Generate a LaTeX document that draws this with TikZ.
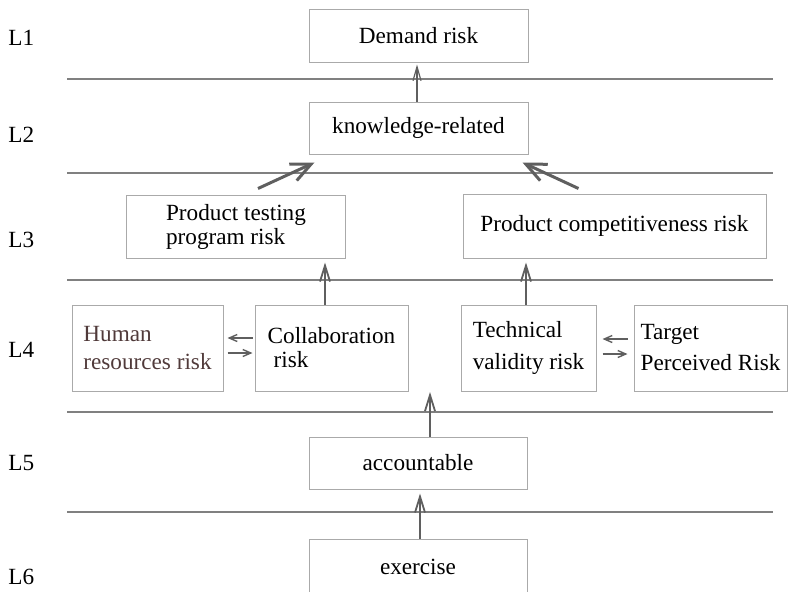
\documentclass[tikz,border=0pt]{standalone}
\usepackage{fontspec}
\setmainfont{Liberation Serif}
\usetikzlibrary{arrows.meta,positioning}
\definecolor{linegray}{RGB}{128,128,128}
\definecolor{boxgray}{RGB}{170,170,170}
\definecolor{arrowgray}{RGB}{95,95,95}
\definecolor{hrbrown}{RGB}{80,58,58}

\begin{document}
\begin{tikzpicture}[
    x=0.5pt, y=-0.5pt,
    font=\fontsize{11.6}{12}\selectfont,
    box/.style={draw=boxgray, line width=0.5pt, align=left, inner sep=0pt,
                minimum width=109.5pt, minimum height=26.5pt},
    wbox/.style={box, minimum height=43pt},
    layer/.style={anchor=west, inner sep=0pt},
    sep/.style={draw=linegray, line width=0.7pt},
    arr/.style={-{Straight Barb[length=7pt,width=4pt]}, line width=0.6pt, draw=arrowgray},
    marr/.style={-{Straight Barb[length=8pt,width=5pt]}, line width=0.9pt,
                 draw=arrowgray, shorten >=2pt},
    sarr/.style={-{Straight Barb[length=4pt,width=3.5pt]}, line width=0.7pt, draw=arrowgray},
    bigarr/.style={-{Straight Barb[length=10pt,width=9pt]}, line width=1.5pt, draw=arrowgray}
]
\clip (0,0) rectangle (792,591);

% level lines
\foreach \y in {79,173,280,412,512}
    \draw[sep] (67,\y) -- (773,\y);

% level labels
\foreach \lvl/\y in {1/38,2/135,3/240,4/350,5/463,6/577}
    \node[layer] (L\lvl) at (8,\y) {L\lvl};

\node[box] (demand) at (418.5,35.5) {Demand risk};
\node[box, minimum height=26pt] (know) at (418.5,128) {knowledge-related};

\node[box, minimum height=31.5pt] (testing) at (236,226.5)
    {Product testing\\program risk};
\node[box, minimum width=151.5pt, minimum height=32pt] (compet) at (614.5,226)
    {Product competitiveness risk};

\node[wbox, minimum width=75.5pt, text=hrbrown] (human) at (147.5,348)
    {Human\\[2pt]resources risk};
\node[wbox, minimum width=76.5pt, right=15.5pt of human] (collab)
    {Collaboration\\\hspace*{3pt}risk};
\node[wbox, minimum width=67.5pt] (tech) at (528.5,348)
    {Technical\\[4pt]validity risk};
\node[wbox, minimum width=76.5pt, right=18.5pt of tech] (target)
    {Target\\[3.5pt]Perceived Risk};

\node[box, minimum width=109pt, minimum height=26pt] (account) at (418,463) {accountable};
\node[box, minimum width=109pt, minimum height=27.5pt] (exercise) at (418,566.5) {exercise};
\coordinate (gap) at (430,392);

% upward links
\draw[arr, shorten >=1pt] ([xshift=-0.75pt]know.north) -- ([xshift=-0.75pt]demand.south);
\draw[bigarr] ([shift={(11pt,3pt)}]testing.north) -- ([shift={(3pt,-4pt)}]know.south west);
\draw[bigarr] ([shift={(-18pt,2.5pt)}]compet.north) -- ([shift={(-3pt,-4pt)}]know.south east);
\draw[marr] ([xshift=-3.25pt]collab.north) -- ([xshift=-3.25pt]collab.north |- testing.south);
\draw[marr] ([xshift=-1.25pt]tech.north) -- ([xshift=-1.25pt]tech.north |- compet.south);
\draw[marr, shorten >=0pt] (account.north -| gap) -- (gap);
\draw[marr] ([xshift=1pt]exercise.north) -- ([xshift=1pt]account.south);

% two-way links
\draw[sarr] ([shift={(-1pt,5pt)}]collab.west) -- ([shift={(2pt,5pt)}]human.east);
\draw[sarr] ([shift={(2pt,-2.5pt)}]human.east) -- ([shift={(-1pt,-2.5pt)}]collab.west);
\draw[sarr] ([shift={(-3pt,4.5pt)}]target.west) -- ([shift={(3pt,4.5pt)}]tech.east);
\draw[sarr] ([shift={(3pt,-3pt)}]tech.east) -- ([shift={(-3pt,-3pt)}]target.west);

\end{tikzpicture}
\end{document}
